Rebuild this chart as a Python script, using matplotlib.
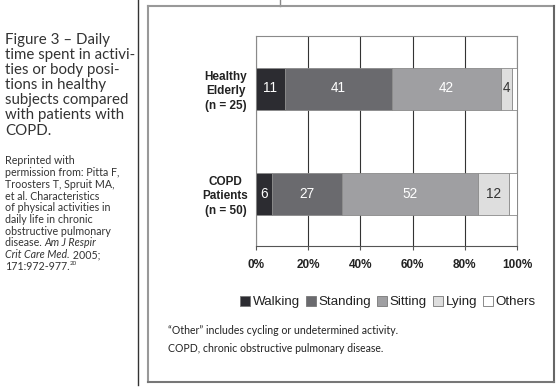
import matplotlib
matplotlib.use("Agg")
import matplotlib.pyplot as plt
from matplotlib.lines import Line2D
from matplotlib.patches import Patch
import numpy as np

# data (percent of daily time)
groups = ["Healthy\nElderly\n(n = 25)", "COPD\nPatients\n(n = 50)"]
activities = ["Walking", "Standing", "Sitting", "Lying", "Others"]
walking = [11, 6]
standing = [41, 27]
sitting = [42, 52]
lying = [4, 12]
others = [2, 3]
xticks = [0, 20, 40, 60, 80, 100]
xticklabels = ["0%", "20%", "40%", "60%", "80%", "100%"]

colors = ["#2c2c31", "#6a6a6e", "#9f9fa2", "#dedede", "#ffffff"]
textcolors = ["white", "white", "white", "#333333", "#333333"]

W, H = 560, 389
fig = plt.figure(figsize=(W / 100, H / 100), dpi=100)

def px(x, y):
    return x / W, 1 - y / H

# page decorations: divider and panel box
fig.add_artist(Line2D([137.5 / W] * 2, [1 - 0 / H, 1 - 385 / H], color="#333333", lw=1.0))
fig.add_artist(Line2D([280 / W] * 2, [1, 1 - 5.5 / H], color="#888888", lw=1.0))
fig.add_artist(Line2D([147.5 / W, 554 / W], [1 - 5.5 / H] * 2, color="#999999", lw=1.5))
fig.add_artist(Line2D([147.5 / W] * 2, [1 - 5.5 / H, 1 - 382 / H], color="#999999", lw=1.5))
fig.add_artist(Line2D([554 / W] * 2, [1 - 5.5 / H, 1 - 382 / H], color="#666666", lw=1.5))
fig.add_artist(Line2D([147.5 / W, 554 / W], [1 - 382 / H] * 2, color="#777777", lw=1.5))

# chart
ax = fig.add_axes([256 / W, 1 - 246 / H, (517 - 256) / W, (246 - 36) / H])
series = [walking, standing, sitting, lying, others]
ypos = np.arange(len(groups))
left = np.zeros(len(groups))
for name, vals, c, tc in zip(activities, series, colors, textcolors):
    bars = ax.barh(ypos, vals, left=left, height=0.4, color=c, edgecolor="#8a8a8a",
                   linewidth=0.6, zorder=3, label=name)
    if name != "Others":
        for b, v in zip(bars, vals):
            ax.text(b.get_x() + b.get_width() / 2, b.get_y() + b.get_height() / 2, str(v),
                    ha="center", va="center", color=tc, fontsize=9.8,
                    family="Liberation Sans", zorder=4)
    left += np.array(vals)

ax.set_xlim(0, 100)
ax.set_ylim(1.5, -0.5)
ax.set_xticks(xticks)
ax.set_xticklabels(xticklabels, fontsize=8.5, fontweight="bold", family="Liberation Sans",
                   color="#222222")
ax.set_yticks(ypos)
ax.set_yticklabels(groups, fontsize=8.5, fontweight="bold", family="Liberation Sans",
                   color="#222222", ha="center", linespacing=1.3)
ax.tick_params(axis="y", length=0, pad=22)
ax.tick_params(axis="x", length=3, width=0.8, color="#555555", pad=6)
ax.grid(axis="x", color="#333333", lw=0.8, zorder=0)
for s in ax.spines.values():
    s.set_color("#8a8a8a")
    s.set_linewidth(0.8)
ax.spines["bottom"].set_color("#555555")

handles = [Patch(facecolor=c, edgecolor="#777777", linewidth=0.6) for c in colors]
fig.legend(handles, activities, loc="center", bbox_to_anchor=px(388, 302), ncol=5,
           frameon=False, prop={"family": "Liberation Sans", "size": 9.6},
           handlelength=0.75, handleheight=0.75, handletextpad=0.2, columnspacing=0.45,
           labelcolor="#222222")

# footnotes
fig.text(*px(168, 330), "\u201cOther\u201d includes cycling or undetermined activity.",
         fontsize=7.6, family="Lato", color="#222222", va="center")
fig.text(*px(168, 348), "COPD, chronic obstructive pulmonary disease.",
         fontsize=7.6, family="Lato", color="#222222", va="center")

# left caption
caption = ["Figure 3 \u2013 Daily", "time spent in activi-", "ties or body posi-",
           "tions in healthy", "subjects compared", "with patients with", "COPD."]
for i, line in enumerate(caption):
    fig.text(*px(5, 40 + i * 15.1), line, fontsize=10.8, family="Lato", color="#333333",
             va="center")

renderer = fig.canvas.get_renderer()

def chain(x, y, pieces, size):
    # draw text pieces one after another on one line
    cur = x / W
    for txt, style in pieces:
        t = fig.text(cur, 1 - y / H, txt, fontsize=size, family="Lato", style=style,
                     color="#333333", va="center")
        bb = t.get_window_extent(renderer)
        cur = bb.x1 / (W)

refs = [
    [("Reprinted with", "normal")],
    [("permission from: Pitta F,", "normal")],
    [("Troosters T, Spruit MA,", "normal")],
    [("et al. Characteristics", "normal")],
    [("of physical activities in", "normal")],
    [("daily life in chronic", "normal")],
    [("obstructive pulmonary", "normal")],
    [("disease. ", "normal"), ("Am J Respir", "italic")],
    [("Crit Care Med.", "italic"), (" 2005;", "normal")],
]
for i, pieces in enumerate(refs):
    chain(5, 161 + i * 11.7, pieces, 7.7)

t = fig.text(*px(5, 161 + 9 * 11.7), "171:972-977.", fontsize=7.7, family="Lato",
             color="#333333", va="center")
bb = t.get_window_extent(renderer)
fig.text(bb.x1 / W, 1 - (161 + 9 * 11.7 - 3) / H, "20", fontsize=4.5, family="Lato",
         color="#333333", va="center")

fig.savefig("out.png", dpi=100)
